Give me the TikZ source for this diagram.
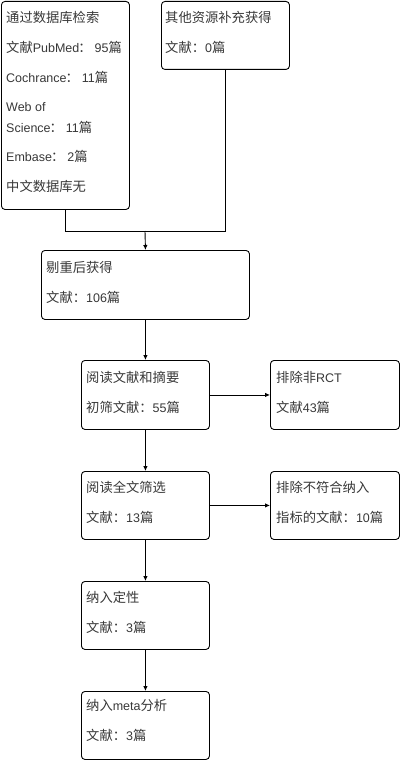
\documentclass[tikz,border=0pt]{standalone}
\usepackage{fontspec}
\setmainfont{Liberation Sans}
\newfontfamily\cjkf{Noto Sans CJK SC}
\newcommand{\zh}[1]{{\cjkf\fontsize{13.3}{15}\selectfont #1}}
\newcommand{\lcolon}{\hspace{-1pt}\zh{：}\hspace{3pt}}
\usetikzlibrary{arrows.meta}
\begin{document}
\begin{tikzpicture}[x=1pt,y=-1pt,
  box/.style={draw=black,line width=0.9pt,rounded corners=3.5pt,rectangle,inner sep=0pt,anchor=north west},
  txt/.style={anchor=west,inner sep=0pt,text=black!78,font=\fontsize{12.5}{14}\selectfont},
  conn/.style={draw=black,line width=0.9pt},
  arr/.style={conn,-{Latex[length=5pt,width=4.5pt]}}]
\useasboundingbox (0,0) rectangle (400,760);
% boxes
\node[box,minimum width=128pt,minimum height=208pt] (b1) at (1,1) {};
\node[box,minimum width=128pt,minimum height=68pt] (b2) at (161,1) {};
\node[box,minimum width=208pt,minimum height=69pt] (b3) at (41,250) {};
\node[box,minimum width=128pt,minimum height=69pt] (b4) at (81,360) {};
\node[box,minimum width=129pt,minimum height=69pt] (b5) at (270,360) {};
\node[box,minimum width=128pt,minimum height=68pt] (b6) at (81,471) {};
\node[box,minimum width=129pt,minimum height=68pt] (b7) at (270,471) {};
\node[box,minimum width=128pt,minimum height=68pt] (b8) at (81,581) {};
\node[box,minimum width=128pt,minimum height=68pt] (b9) at (81,691) {};
% texts
\node[txt] (t1a) at (6,17) {\zh{通过数据库检索}};
\node[txt] (t1b) at (6,47) {\zh{文献}PubMed\lcolon 95\zh{篇}};
\node[txt] (t1c) at (6,77) {Cochrance\lcolon 11\zh{篇}};
\node[txt] (t1d) at (6,107) {Web of};
\node[txt] (t1e) at (6,127) {Science\lcolon 11\zh{篇}};
\node[txt] (t1f) at (6,156) {Embase\lcolon 2\zh{篇}};
\node[txt] (t1g) at (6,186) {\zh{中文数据库无}};
\node[txt] (t2a) at (165,17) {\zh{其他资源补充获得}};
\node[txt] (t2b) at (165,47) {\zh{文献：}0\zh{篇}};
\node[txt] (t3a) at (46,267) {\zh{剔重后获得}};
\node[txt] (t3b) at (46,297) {\zh{文献：}106\zh{篇}};
\node[txt] (t4a) at (86,377) {\zh{阅读文献和摘要}};
\node[txt] (t4b) at (86,407) {\zh{初筛文献：}55\zh{篇}};
\node[txt] (t5a) at (276,377) {\zh{排除非}RCT};
\node[txt] (t5b) at (276,407) {\zh{文献}43\zh{篇}};
\node[txt] (t6a) at (86,487) {\zh{阅读全文筛选}};
\node[txt] (t6b) at (86,517) {\zh{文献：}13\zh{篇}};
\node[txt] (t7a) at (276,487) {\zh{排除不符合纳入}};
\node[txt] (t7b) at (276,517) {\zh{指标的文献：}10\zh{篇}};
\node[txt] (t8a) at (86,597) {\zh{纳入定性}};
\node[txt] (t8b) at (86,627) {\zh{文献：}3\zh{篇}};
\node[txt] (t9a) at (86,705) {\zh{纳入}meta\zh{分析}};
\node[txt] (t9b) at (86,735) {\zh{文献：}3\zh{篇}};
% connectors
\coordinate (j) at (145,231);
\draw[conn] (b1.south) |- (j);
\draw[conn] (b2.south) |- (j);
\draw[arr] (j) -- (b3.north);
\draw[arr] (b3.south) -- (b4.north);
\draw[arr] (b4.east) -- (b5.west);
\draw[arr] (b4.south) -- (b6.north);
\draw[arr] (b6.east) -- (b7.west);
\draw[arr] (b6.south) -- (b8.north);
\draw[arr] (b8.south) -- (b9.north);
\end{tikzpicture}
\end{document}
